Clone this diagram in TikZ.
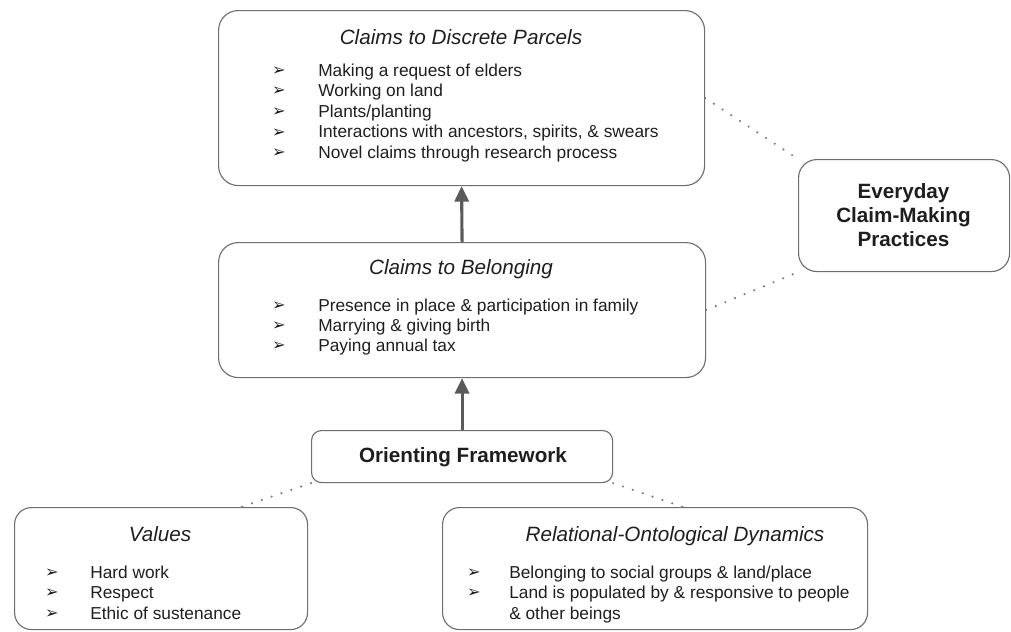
\documentclass[tikz,border=0pt]{standalone}
\usepackage{fontspec}
\setmainfont{Liberation Sans}
\newfontfamily\dingfont{DejaVu Sans}
\usetikzlibrary{arrows.meta}

\begin{document}
\begin{tikzpicture}[x=0.025cm,y=-0.025cm,
    box/.style={draw=edgegray, line width=0.8pt, anchor=north west, inner sep=0pt},
    head/.style={font=\fontsize{14.7}{17}\selectfont\itshape, text=ink, anchor=base, inner sep=0pt},
    boldhead/.style={font=\fontsize{14.7}{17}\selectfont\bfseries, text=ink, align=center},
    item/.style={font=\fontsize{12.3}{14.6}\selectfont, text=ink, anchor=base west, inner sep=0pt},
    bullet/.style={font=\dingfont\fontsize{11.5}{13}\selectfont, text=ink, inner sep=0pt},
    uparrow/.style={draw=arrowgray, line width=2.2pt, -{Triangle[length=11pt,width=10pt,fill=arrowgray]}},
    dotlink/.style={draw=dotgray, line width=1.7pt, line cap=round, dash pattern=on 0pt off 7.4pt}]
    \definecolor{ink}{HTML}{1E1E1E}
    \definecolor{edgegray}{HTML}{6E6E6E}
    \definecolor{arrowgray}{HTML}{5A5A5A}
    \definecolor{dotgray}{HTML}{7A7A7A}
    \def\px{0.025cm}
    \useasboundingbox (0,0) rectangle (1011,631);

    % boxes
    \node[box, rounded corners=14pt, minimum width=486*\px, minimum height=175*\px] (parcels) at (218,10) {};
    \node[box, rounded corners=14pt, minimum width=487*\px, minimum height=135*\px] (belonging) at (218,242) {};
    \node[box, rounded corners=13pt, minimum width=211*\px, minimum height=112*\px] (everyday) at (798,159) {};
    \node[box, rounded corners=7pt, minimum width=301*\px, minimum height=52*\px] (orienting) at (311,430) {};
    \node[box, rounded corners=12pt, minimum width=293*\px, minimum height=122*\px] (values) at (14,507) {};
    \node[box, rounded corners=12pt, minimum width=425*\px, minimum height=122*\px] (dynamics) at (442,507) {};

    % headings
    \node[head] (parcelshead) at (461,44) {Claims to Discrete Parcels};
    \node[head] (belonginghead) at (461,274) {Claims to Belonging};
    \node[head] (valueshead) at (160,541) {Values};
    \node[head] (dynamicshead) at (675,541) {Relational-Ontological Dynamics};
    \node[boldhead] (everydayhead) at (903.5,215) {Everyday\\Claim-Making\\Practices};
    \node[boldhead] (orientinghead) at (463,457) {Orienting Framework};

    % bullet lists
    \foreach \t [count=\i from 0] in {Making a request of elders, Working on land, Plants/planting,
        {Interactions with ancestors, spirits, \& swears}, Novel claims through research process}{
      \node[bullet] (pb\i) at (279,71+20.6*\i) {➢};
      \node[item] (pt\i) at (318,76+20.6*\i) {\t};
    }
    \foreach \t [count=\i from 0] in {Presence in place \& participation in family,
        Marrying \& giving birth, Paying annual tax}{
      \node[bullet] (bb\i) at (279,306+20*\i) {➢};
      \node[item] (bt\i) at (318,311+20*\i) {\t};
    }
    \foreach \t [count=\i from 0] in {Hard work, Respect, Ethic of sustenance}{
      \node[bullet] (vb\i) at (52,573+20.5*\i) {➢};
      \node[item] (vt\i) at (90,578+20.5*\i) {\t};
    }
    \foreach \t [count=\i from 0] in {Belonging to social groups \& land/place,
        Land is populated by \& responsive to people}{
      \node[bullet] (db\i) at (474,573+20.5*\i) {➢};
      \node[item] (dt\i) at (509,578+20.5*\i) {\t};
    }
    \node[item] (dt2) at (509,619) {\& other beings};

    % connectors
    \draw[uparrow] (orienting.north) -- (belonging.south);
    \draw[uparrow] (belonging.north) -- (parcels.south);
    \draw[dotlink] (parcels.east) -- (everyday.north west);
    \draw[dotlink] (belonging.east) -- (everyday.south west);
    \draw[dotlink] (orienting.south west) -- ([xshift=-67*\px]values.north east);
    \draw[dotlink] (orienting.south east) -- ([xshift=241*\px]dynamics.north west);
\end{tikzpicture}
\end{document}
